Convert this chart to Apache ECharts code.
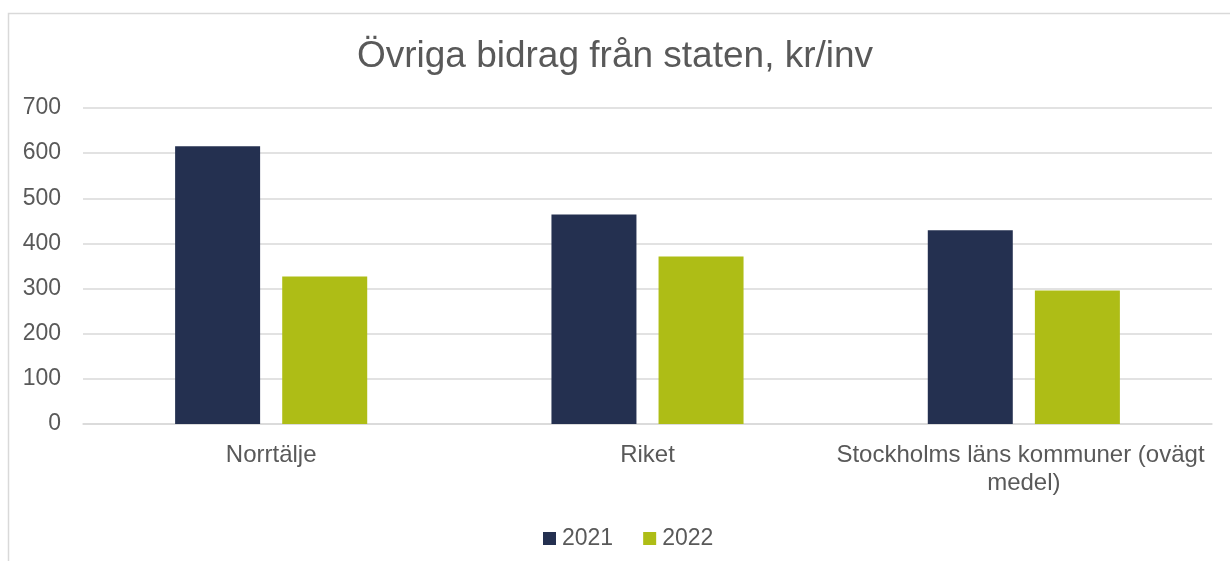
<!DOCTYPE html>
<html>
<head>
<meta charset="utf-8">
<script src="https://cdn.jsdelivr.net/npm/echarts@6/dist/echarts.min.js"></script>
<style>html,body{margin:0;padding:0;background:#fff;}#c{width:1230px;height:561px;}</style>
</head>
<body>
<div id="c"></div>
<script>
const categories = ['Norrtälje', 'Riket', 'Stockholms läns kommuner (ovägt medel)'];
const seriesNames = ['2021', '2022'];
const values2021 = [615, 464, 429];
const values2022 = [327, 371, 296];
const yTicks = { min: 0, max: 700, interval: 100 };

const chart = echarts.init(document.getElementById('c'));
const font = 'Liberation Sans, Arial, sans-serif';
chart.setOption({
  animation: false,
  backgroundColor: '#fff',
  title: {
    text: 'Övriga bidrag från staten, kr/inv',
    left: 'center', top: 33,
    textStyle: { fontFamily: font, fontSize: 37, fontWeight: 'normal', color: '#595959' }
  },
  graphic: [{
    type: 'rect', silent: true,
    shape: { x: 8.5, y: 13.5, width: 1240, height: 560 },
    style: { fill: 'none', stroke: '#d9d9d9', lineWidth: 1.5 }
  }],
  legend: {
    bottom: 6, left: 538,
    itemWidth: 13, itemHeight: 13, itemGap: 30,
    icon: 'rect',
    textStyle: { fontFamily: font, fontSize: 23, color: '#595959', padding: [0, 0, 0, 1] },
    data: seriesNames
  },
  grid: { left: 83, right: 18, top: 108, bottom: 137, containLabel: false },
  xAxis: {
    type: 'category', data: categories,
    axisLine: { show: true, lineStyle: { color: '#d9d9d9', width: 1.5 } },
    axisTick: { show: false },
    axisLabel: {
      fontFamily: font, fontSize: 24, color: '#595959', margin: 17,
      interval: 0, width: 400, overflow: 'break', lineHeight: 28
    }
  },
  yAxis: {
    type: 'value', min: yTicks.min, max: yTicks.max, interval: yTicks.interval,
    axisLine: { show: false }, axisTick: { show: false },
    splitLine: { lineStyle: { color: '#d9d9d9', width: 1.5 } },
    axisLabel: { fontFamily: font, fontSize: 23, color: '#595959', margin: 22 }
  },
  series: [
    { name: seriesNames[0], type: 'bar', data: values2021, barWidth: 85, barGap: '26%', itemStyle: { color: '#243050' } },
    { name: seriesNames[1], type: 'bar', data: values2022, barWidth: 85, barGap: '26%', itemStyle: { color: '#aebd16' } }
  ]
});
</script>
</body>
</html>
